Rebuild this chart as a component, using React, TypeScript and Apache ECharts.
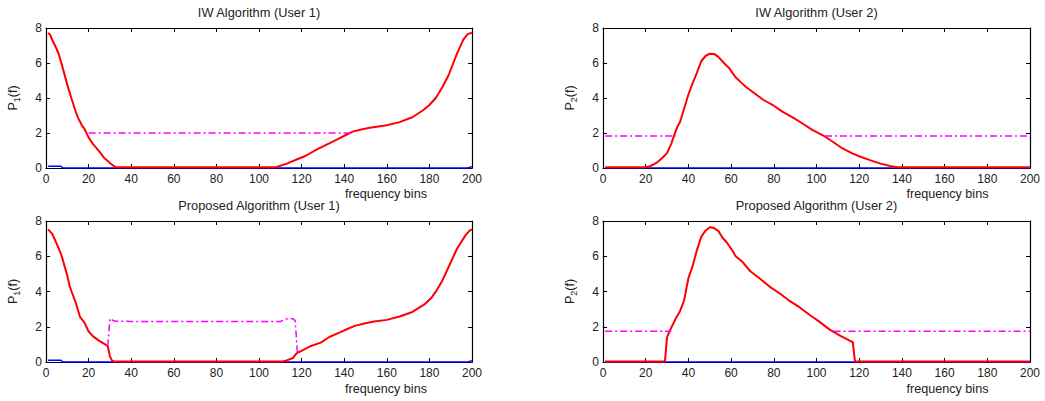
import { useEffect, useRef } from "react";
import * as echarts from "echarts";

const panelTitles = [
  "IW Algorithm (User 1)",
  "IW Algorithm (User 2)",
  "Proposed Algorithm (User 1)",
  "Proposed Algorithm (User 2)",
];
const userIndex = ["1", "2", "1", "2"];
const xAxisTitle = "frequency bins";

// Power spectral density P(f) (red)
const iwUser1Power = [
  [1, 7.72], [2, 7.6], [3, 7.3], [5, 6.8], [6, 6.5], [8, 5.65], [10, 4.75], [12, 3.96],
  [14, 3.2], [15, 2.88], [17, 2.4], [18, 2.25], [20, 1.75], [22, 1.38], [25, 0.95],
  [27, 0.62], [30, 0.29], [32, 0.1], [33, 0.04], [108, 0.04], [113, 0.25], [118, 0.5],
  [122, 0.7], [127, 1.05], [132, 1.35], [137, 1.65], [141, 1.9], [144, 2.08], [148, 2.2],
  [152, 2.3], [160, 2.44], [166, 2.62], [172, 2.9], [177, 3.3], [180, 3.6], [183, 4.0],
  [186, 4.6], [189, 5.3], [193, 6.55], [196, 7.35], [198, 7.65], [200, 7.73],
];
const iwUser2Power = [
  [1, 0.04], [20, 0.04], [22, 0.1], [25, 0.29], [28, 0.6], [30, 0.85], [32, 1.39],
  [34, 2.1], [35, 2.4], [36, 2.6], [38, 3.4], [40, 4.2], [42, 4.85], [44, 5.45], [46, 6.1],
  [48, 6.4], [50, 6.53], [52, 6.52], [54, 6.35], [57, 5.96], [59, 5.72], [62, 5.2],
  [65, 4.85], [67, 4.63], [70, 4.36], [75, 3.9], [80, 3.56], [84, 3.22], [89, 2.88],
  [94, 2.5], [98, 2.18], [103, 1.87], [108, 1.47], [112, 1.13], [117, 0.82], [120, 0.67],
  [125, 0.45], [130, 0.25], [135, 0.1], [138, 0.04], [200, 0.04],
];
const propUser1Power = [
  [1, 7.53], [3, 7.25], [5, 6.72], [7, 6.15], [8, 5.75], [10, 4.9], [11, 4.35], [12, 4.0],
  [14, 3.35], [16, 2.55], [18, 2.25], [20, 1.73], [22, 1.47], [25, 1.2], [28, 0.98],
  [29, 0.89], [30, 0.32], [31, 0.08], [32, 0.03], [111, 0.03], [113, 0.09], [116, 0.23],
  [117, 0.4], [118, 0.53], [119, 0.58], [124, 0.89], [129, 1.1], [133, 1.42], [138, 1.68],
  [142, 1.9], [145, 2.05], [150, 2.2], [154, 2.3], [160, 2.39], [166, 2.58], [172, 2.84],
  [178, 3.3], [181, 3.65], [183, 3.99], [186, 4.6], [188, 5.12], [193, 6.44], [197, 7.2],
  [199, 7.47], [200, 7.52],
];
const propUser2Power = [
  [1, 0.03], [29, 0.03], [30, 1.4], [31, 1.7], [34, 2.45], [36, 2.86], [38, 3.5],
  [40, 4.75], [42, 5.45], [44, 6.35], [46, 7.1], [48, 7.45], [50, 7.65], [52, 7.6],
  [54, 7.44], [56, 7.05], [58, 6.78], [61, 6.25], [62, 6.02], [65, 5.72], [69, 5.15],
  [73, 4.78], [78, 4.28], [83, 3.87], [87, 3.5], [92, 3.11], [97, 2.65], [101, 2.32],
  [106, 1.85], [111, 1.5], [116, 1.18], [117, 1.13], [118, 0.03], [200, 0.03],
];

// Water level (magenta dash-dot)
const iwUser1Level = [[20, 2.0], [144, 2.0]];
const iwUser2Level = [[1, 1.83], [34, 1.83], [69, "-"], [104, 1.83], [200, 1.83]];
const propUser1Level = [
  [29, 0.89], [30, 2.47], [32, 2.32], [40, 2.3], [110, 2.3], [113, 2.45], [116, 2.45],
  [117, 2.35], [118, 0.55],
];
const propUser2Level = [[1, 1.75], [32, 1.75], [70, "-"], [108, 1.75], [200, 1.75]];

// Interference (blue)
const iwUser1Noise = [[1, 0.1], [7, 0.1], [8, 0], [198, 0], [200, 0.08]];
const iwUser2Noise = [[1, 0], [200, 0]];
const propUser1Noise = [[1, 0.1], [7, 0.1], [8, 0], [198, 0], [200, 0.08]];
const propUser2Noise = [[1, 0], [200, 0]];

const powerSets = [iwUser1Power, iwUser2Power, propUser1Power, propUser2Power];
const levelSets = [iwUser1Level, iwUser2Level, propUser1Level, propUser2Level];
const noiseSets = [iwUser1Noise, iwUser2Noise, propUser1Noise, propUser2Noise];

const FONT = "'Liberation Sans', Arial, Helvetica, sans-serif";
const TXT = "#222";

export default function App() {
  const ref = useRef<HTMLDivElement>(null);
  useEffect(() => {
    if (!ref.current) return;
    const chart = echarts.init(ref.current, undefined, { renderer: "svg" });
    const grids = [
      { left: 46, top: 28, width: 426, height: 140 },
      { left: 603, top: 28, width: 427, height: 140 },
      { left: 46, top: 221, width: 426, height: 141 },
      { left: 603, top: 221, width: 427, height: 141 },
    ];
    const xAxes: any[] = [];
    const yAxes: any[] = [];
    const series: any[] = [];
    const titles: any[] = [];
    grids.forEach((g, i) => {
      const isLeft = i % 2 === 0;
      const shift = isLeft ? 127 : 131;
      titles.push({
        text: panelTitles[i],
        left: g.left + g.width / 2,
        top: i < 2 ? 6 : 199,
        textAlign: "center",
        padding: 0,
        textStyle: { fontFamily: FONT, fontSize: 12.8, fontWeight: "normal", color: TXT },
      });
      const axisBase = {
        type: "value",
        gridIndex: i,
        axisLine: { show: true, onZero: false, lineStyle: { color: "#000", width: 1.2 } },
        axisTick: { show: true, inside: true, length: 4, lineStyle: { color: "#000" } },
        splitLine: { show: false },
      };
      xAxes.push({
        ...axisBase,
        position: "bottom",
        min: 0,
        max: 200,
        interval: 20,
        axisLabel: { margin: 5, fontFamily: FONT, fontSize: 12, color: TXT },
        name: xAxisTitle,
        nameLocation: "middle",
        nameGap: i < 2 ? 19 : 20,
        nameTextStyle: {
          fontFamily: FONT,
          fontSize: 12.6,
          color: TXT,
          padding: [0, 0, 0, shift * 2],
        },
      });
      xAxes.push({
        ...axisBase,
        position: "top",
        min: 0,
        max: 200,
        interval: 20,
        axisLabel: { show: false },
      });
      yAxes.push({
        ...axisBase,
        position: "left",
        min: 0,
        max: 8,
        interval: 2,
        axisLabel: { margin: 4, fontFamily: FONT, fontSize: 12, color: TXT },
        name: `{p|P}{s|${userIndex[i]}}{p|(f)}`,
        nameLocation: "middle",
        nameRotate: 90,
        nameGap: 25,
        nameTextStyle: {
          fontFamily: FONT,
          color: TXT,
          rich: {
            p: { fontFamily: FONT, fontSize: 12.5, color: TXT },
            s: { fontFamily: FONT, fontSize: 9, color: TXT, padding: [8, 0, 0, 0] },
          },
        },
      });
      yAxes.push({
        ...axisBase,
        position: "right",
        min: 0,
        max: 8,
        interval: 2,
        axisLabel: { show: false },
      });
      series.push({
        type: "line",
        xAxisIndex: i * 2,
        yAxisIndex: i * 2,
        data: noiseSets[i],
        symbol: "none",
        lineStyle: { color: "#0000ff", width: 1.5 },
        z: 2,
      });
      series.push({
        type: "line",
        xAxisIndex: i * 2,
        yAxisIndex: i * 2,
        data: powerSets[i],
        symbol: "none",
        lineStyle: { color: "#ff0000", width: 2 },
        z: 3,
      });
      series.push({
        type: "line",
        xAxisIndex: i * 2,
        yAxisIndex: i * 2,
        data: levelSets[i],
        symbol: "none",
        connectNulls: false,
        lineStyle: { color: "#ff00ff", width: 1.5, type: [7, 3, 2, 3] },
        z: 4,
      });
    });
    chart.setOption({
      animation: false,
      backgroundColor: "#ffffff",
      title: titles,
      grid: grids.map((g) => ({ ...g, containLabel: false })),
      xAxis: xAxes,
      yAxis: yAxes,
      series,
    });
    return () => chart.dispose();
  }, []);
  return (
    <div
      ref={ref}
      style={{ position: "absolute", left: 0, top: 0, width: 1045, height: 401, background: "#fff" }}
    />
  );
}
